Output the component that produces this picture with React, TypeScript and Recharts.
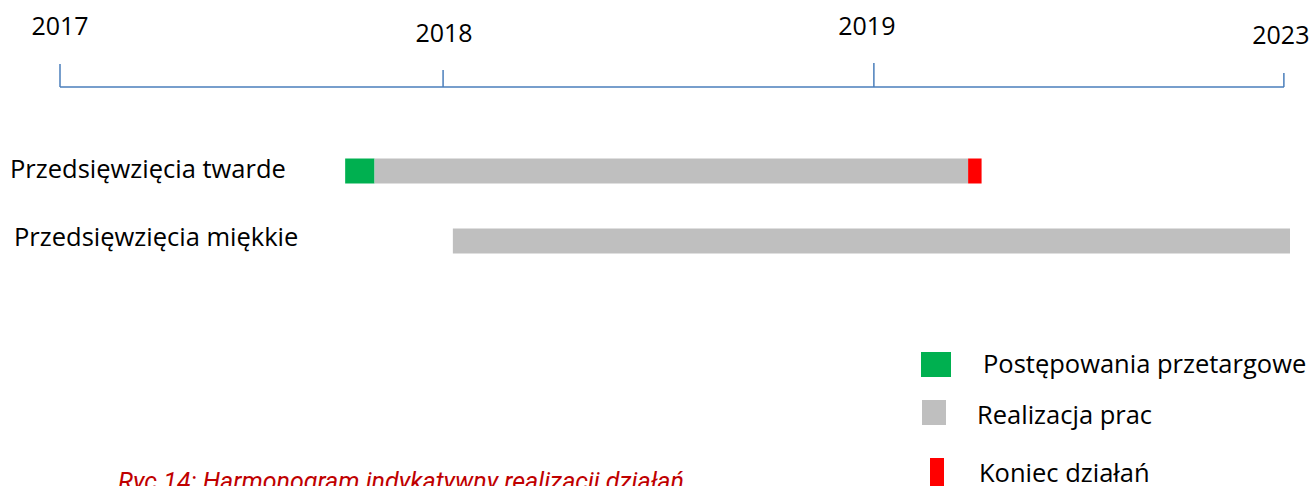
import React from "react";
import { BarChart, Bar, XAxis, YAxis, Legend } from "recharts";

// rows of the schedule
const rows = ["Przedsięwzięcia twarde", "Przedsięwzięcia miękkie"];
// positions on the (schematic) timeline: 0 = 2017 marker, 100 = 2023 marker
const startPos = [23.3, 32.1];
const tenderLen = [2.4, 0];
const worksLen = [48.5, 68.4];
const endLen = [1.1, 0];

const yearPos = [0, 31.3, 66.5, 100];
const yearLabels = ["2017", "2018", "2019", "2023"];

const seriesNames = ["Postępowania przetargowe", "Realizacja prac", "Koniec działań"];

const data = rows.map((name, i) => ({
  name,
  start: startPos[i],
  tender: tenderLen[i],
  works: worksLen[i],
  end: endLen[i],
}));

const AXIS_BLUE = "#4A7EBB";
const FONT = "'Open Sans', 'Noto Sans', sans-serif";

// per-tick look of the hand drawn timeline
const yearTickStyle = [
  { len: 23, dx: 0, dy: 52 },
  { len: 17, dx: 1, dy: 45 },
  { len: 24, dx: -7, dy: 52 },
  { len: 14, dx: -3, dy: 43 },
];
const rowLabelStyle = [
  { dx: -50, dy: 7 },
  { dx: -46, dy: 5.5 },
];
const legendStyle = [
  { x: 921, y: 352, w: 30, h: 25, tx: 983, ty: 373 },
  { x: 922, y: 400, w: 24, h: 25, tx: 977, ty: 424 },
  { x: 930, y: 458, w: 14, h: 28, tx: 979, ty: 482 },
];

const YearTick = (props: any) => {
  const { x, y, index, payload } = props;
  const s = yearTickStyle[index] || yearTickStyle[0];
  const label = yearLabels[yearPos.indexOf(payload.value)];
  return (
    <g>
      <line x1={x} x2={x} y1={y} y2={y - s.len} stroke={AXIS_BLUE} strokeWidth={1.5} />
      <text x={x + s.dx} y={y - s.dy} textAnchor="middle" fill="#000" fontSize={25} fontFamily={FONT}>
        {label}
      </text>
    </g>
  );
};

const RowTick = (props: any) => {
  const { x, y, index, payload } = props;
  const s = rowLabelStyle[index] || rowLabelStyle[0];
  return (
    <text x={x + s.dx} y={y + s.dy} textAnchor="start" fill="#000" fontSize={25.5} fontFamily={FONT}>
      {payload.value}
    </text>
  );
};

const LegendContent = (props: any) => {
  const items = (props.payload || []).filter((p: any) => p.type !== "none");
  return (
    <svg width={1313} height={486} style={{ position: "absolute", left: 0, top: 0 }}>
      {items.map((p: any) => {
        const s = legendStyle[seriesNames.indexOf(p.value)];
        if (!s) return null;
        return (
          <g key={p.value}>
            <rect x={s.x} y={s.y} width={s.w} height={s.h} fill={p.color} />
            <text x={s.tx} y={s.ty} fontSize={25.5} fontFamily={FONT} fill="#000">
              {p.value}
            </text>
          </g>
        );
      })}
    </svg>
  );
};

export default function App() {
  return (
    <div style={{ position: "absolute", left: 0, top: 0, width: 1313, height: 486, background: "#fff", overflow: "hidden" }}>
      <BarChart
        width={1313}
        height={486}
        data={data}
        layout="vertical"
        margin={{ top: 0, right: 23, bottom: 210.5, left: 0 }}
        barSize={25}
      >
        <XAxis
          type="number"
          orientation="top"
          domain={[0, 100.5]}
          ticks={yearPos}
          height={87}
          tickSize={0}
          tickMargin={0}
          interval={0}
          axisLine={{ stroke: AXIS_BLUE, strokeWidth: 1.5, strokeDasharray: "1224 40" }}
          tickLine={false}
          tick={YearTick}
        />
        <YAxis
          type="category"
          dataKey="name"
          width={60}
          padding={{ top: 48.5, bottom: 0 }}
          axisLine={false}
          tickLine={false}
          tickSize={0}
          tickMargin={0}
          interval={0}
          tick={RowTick}
        />
        <Legend
          layout="horizontal"
          verticalAlign="middle"
          align="center"
          wrapperStyle={{ left: 0, top: 0, width: 1313, height: 486 }}
          content={LegendContent}
        />
        <Bar dataKey="start" stackId="a" fill="transparent" legendType="none" isAnimationActive={false} />
        <Bar dataKey="tender" name={seriesNames[0]} stackId="a" fill="#00B050" isAnimationActive={false} />
        <Bar dataKey="works" name={seriesNames[1]} stackId="a" fill="#BFBFBF" isAnimationActive={false} />
        <Bar dataKey="end" name={seriesNames[2]} stackId="a" fill="#FF0000" isAnimationActive={false} />
      </BarChart>
      <div
        style={{
          position: "absolute",
          left: 118,
          top: 469,
          fontFamily: "Roboto, sans-serif",
          fontStyle: "italic",
          fontSize: 25,
          lineHeight: "25px",
          color: "#C00000",
          whiteSpace: "nowrap",
        }}
      >
        Ryc.14: Harmonogram indykatywny realizacji działań
      </div>
    </div>
  );
}
